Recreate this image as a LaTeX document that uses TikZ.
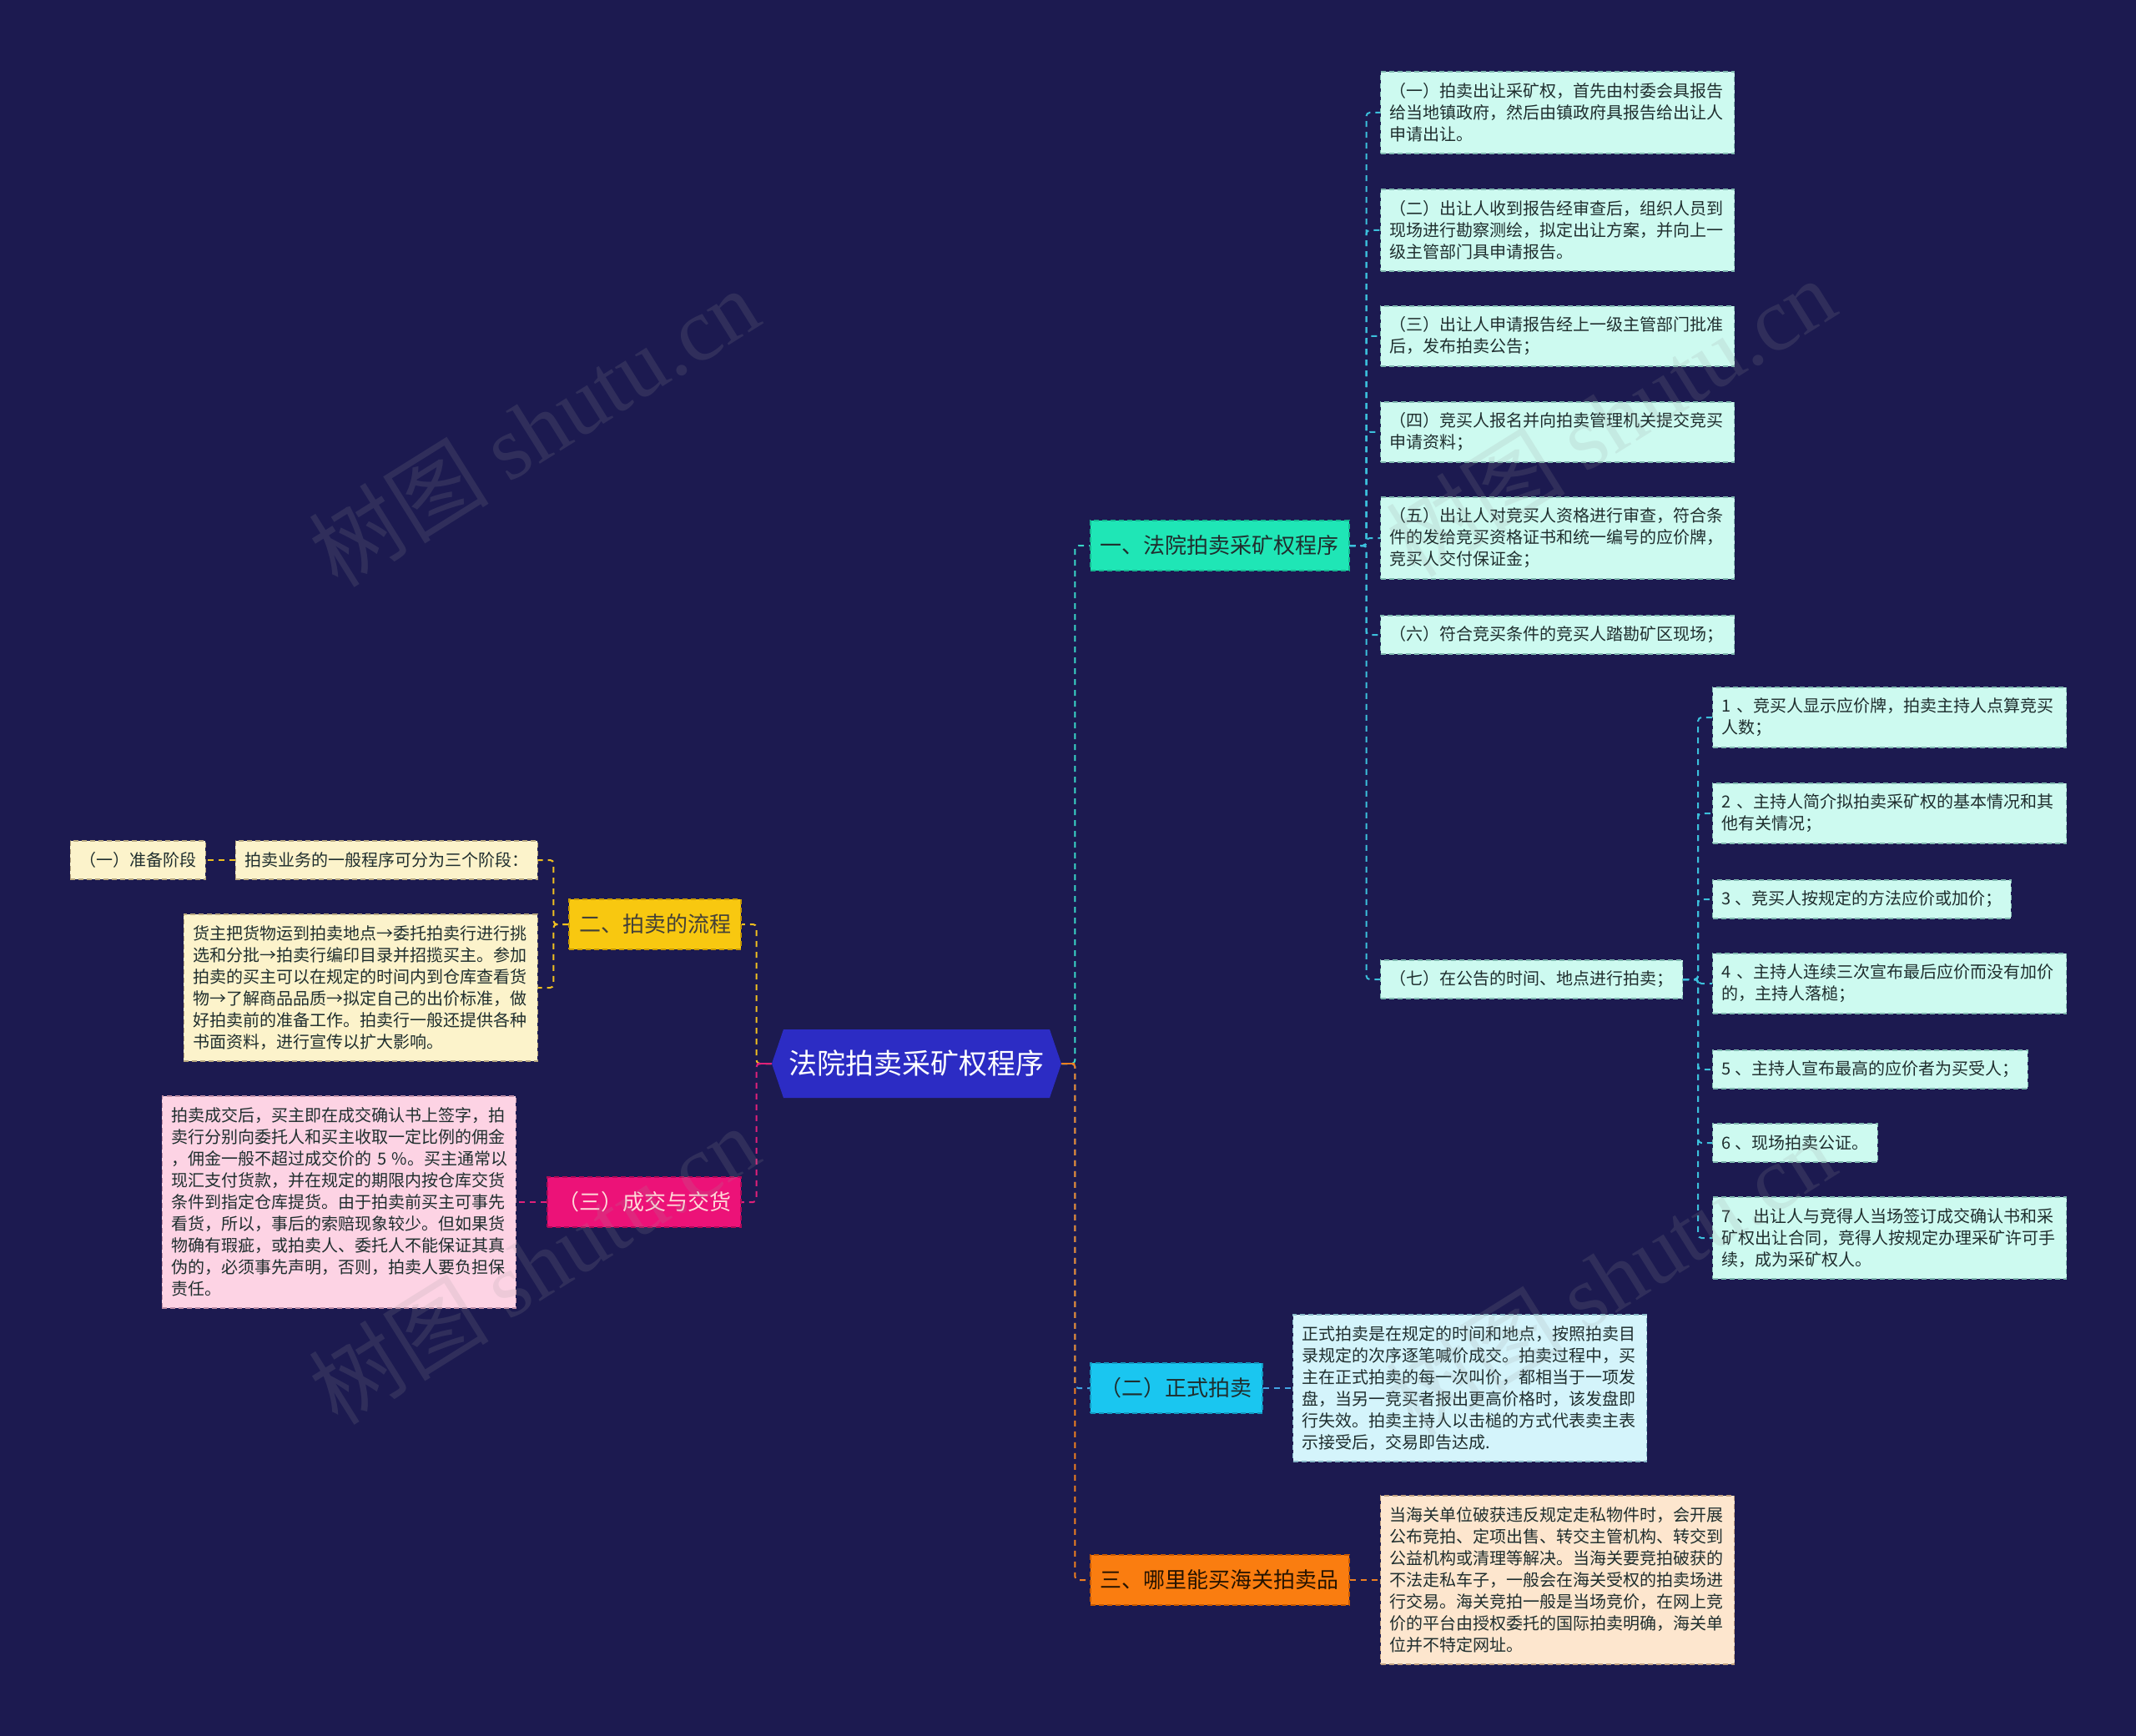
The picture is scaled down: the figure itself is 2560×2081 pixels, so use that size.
\documentclass[tikz,border=0pt]{standalone}
\usepackage{fontspec}
\setmainfont{Noto Sans CJK SC}
\newfontfamily\wmserif{Liberation Serif}
\usetikzlibrary{calc}
\definecolor{bgcol}{HTML}{1C1A50}
\definecolor{rootfill}{HTML}{2C2CC4}
\definecolor{tealfill}{HTML}{1FE6B6}
\definecolor{tealdraw}{HTML}{14B890}
\definecolor{cyanfill}{HTML}{1AC6F0}
\definecolor{cyandraw}{HTML}{1398C0}
\definecolor{orangefill}{HTML}{FA7D10}
\definecolor{orangedraw}{HTML}{C85A00}
\definecolor{yellowfill}{HTML}{F8C810}
\definecolor{yellowdraw}{HTML}{C89A00}
\definecolor{pinkfill}{HTML}{EC1278}
\definecolor{pinkdraw}{HTML}{B00A58}
\definecolor{mintfill}{HTML}{CDFAF0}
\definecolor{mintdraw}{HTML}{80B8B0}
\definecolor{creamfill}{HTML}{FCF3CB}
\definecolor{creamdraw}{HTML}{B8A880}
\definecolor{lpinkfill}{HTML}{FDD3E4}
\definecolor{lpinkdraw}{HTML}{C090A8}
\definecolor{lbluefill}{HTML}{D4F4FB}
\definecolor{lbluedraw}{HTML}{88B8C8}
\definecolor{peachfill}{HTML}{FDE6CE}
\definecolor{peachdraw}{HTML}{C0A080}
\definecolor{leaftext}{HTML}{1F2E2E}
\definecolor{tealline}{HTML}{3AD8C8}
\definecolor{cyanline}{HTML}{3CC0DC}
\definecolor{blueline}{HTML}{42A4E4}
\definecolor{orangeline}{HTML}{F08020}
\definecolor{yellowline}{HTML}{F0C020}
\definecolor{pinkline}{HTML}{E0207A}
\definecolor{wmcol}{HTML}{9A9A9A}
\begin{document}
\begin{tikzpicture}[x=0.5pt,y=-0.5pt,
  base/.style={font=\fontsize{10}{13}\selectfont, inner xsep=5.5pt, inner ysep=4pt,
    dash pattern=on 3pt off 2pt, line width=0.6pt, text=leaftext},
  wide/.style={text width=201pt, align=left},
  mint/.style={base, fill=mintfill, draw=mintdraw},
  cream/.style={base, fill=creamfill, draw=creamdraw},
  lpink/.style={base, fill=lpinkfill, draw=lpinkdraw},
  lblue/.style={base, fill=lbluefill, draw=lbluedraw},
  peach/.style={base, fill=peachfill, draw=peachdraw},
  hA/.style={minimum height=23pt},
  hB/.style={minimum height=36pt},
  hC/.style={minimum height=49pt},
  hF/.style={minimum height=88pt},
  hG/.style={minimum height=101pt},
  hI/.style={minimum height=127pt},
  lvl/.style={font=\fontsize{13}{16}\selectfont, inner xsep=6pt, inner ysep=3pt,
    minimum height=30pt, dash pattern=on 3pt off 2pt, line width=0.8pt},
  conn/.style={dash pattern=on 3.5pt off 3pt, line width=1pt, rounded corners=2pt},
  wm/.style={rotate=32, text=wmcol, opacity=0.16, font=\fontsize{54}{54}\selectfont}
]
\fill[bgcol] (0,0) rectangle (2560,2081);
\useasboundingbox (0,0) rectangle (2560,2081);

% root
\fill[rootfill] (925,1275) -- (939,1234) -- (1258,1234) -- (1272,1275) -- (1258,1316) -- (939,1316) -- cycle;
\node[minimum width=173.5pt, minimum height=41pt, inner sep=0pt, text=white,
  font=\fontsize{17}{20}\selectfont] (root) at (1098.5,1275) {法院拍卖采矿权程序};

% level 1 right
\node[lvl, anchor=west, fill=tealfill, draw=tealdraw, text=leaftext] (n1) at (1306,654) {一、法院拍卖采矿权程序};
\node[lvl, anchor=west, fill=cyanfill, draw=cyandraw, text=leaftext] (n2) at (1306,1664) {（二）正式拍卖};
\node[lvl, anchor=west, fill=orangefill, draw=orangedraw, text={black!85!orange}] (n3) at (1306,1894) {三、哪里能买海关拍卖品};

% level 1 left
\node[lvl, anchor=east, fill=yellowfill, draw=yellowdraw, text={black!85!yellow}] (L1) at (889,1108) {二、拍卖的流程};
\node[lvl, anchor=east, fill=pinkfill, draw=pinkdraw, text={pink!60!white}] (L2) at (889,1441) {（三）成交与交货};

% children of n1
\node[mint, wide, hC, anchor=west] (c1) at (1654,135) {（一）拍卖出让采矿权，首先由村委会具报告\\给当地镇政府，然后由镇政府具报告给出让人\\申请出让。};
\node[mint, wide, hC, anchor=west] (c2) at (1654,276) {（二）出让人收到报告经审查后，组织人员到\\现场进行勘察测绘，拟定出让方案，并向上一\\级主管部门具申请报告。};
\node[mint, wide, hB, anchor=west] (c3) at (1654,403) {（三）出让人申请报告经上一级主管部门批准\\后，发布拍卖公告；};
\node[mint, wide, hB, anchor=west] (c4) at (1654,518) {（四）竞买人报名并向拍卖管理机关提交竞买\\申请资料；};
\node[mint, wide, hC, anchor=west] (c5) at (1654,645) {（五）出让人对竞买人资格进行审查，符合条\\件的发给竞买资格证书和统一编号的应价牌，\\竞买人交付保证金；};
\node[mint, wide, hA, anchor=west] (c6) at (1654,761) {（六）符合竞买条件的竞买人踏勘矿区现场；};
\node[mint, hA, anchor=west] (c7) at (1654,1174) {（七）在公告的时间、地点进行拍卖；};

% children of c7
\node[mint, wide, hB, anchor=west] (d1) at (2052,860) {1 、竞买人显示应价牌，拍卖主持人点算竞买\\人数；};
\node[mint, wide, hB, anchor=west] (d2) at (2052,975) {2 、主持人简介拟拍卖采矿权的基本情况和其\\他有关情况；};
\node[mint, hA, anchor=west] (d3) at (2052,1078) {3 、竞买人按规定的方法应价或加价；};
\node[mint, wide, hB, anchor=west] (d4) at (2052,1179) {4 、主持人连续三次宣布最后应价而没有加价\\的，主持人落槌；};
\node[mint, hA, anchor=west] (d5) at (2052,1282) {5 、主持人宣布最高的应价者为买受人；};
\node[mint, hA, anchor=west] (d6) at (2052,1370) {6 、现场拍卖公证。};
\node[mint, wide, hC, anchor=west] (d7) at (2052,1484) {7 、出让人与竞得人当场签订成交确认书和采\\矿权出让合同，竞得人按规定办理采矿许可手\\续，成为采矿权人。};

% child of n2
\node[lblue, wide, hF, anchor=west] (n2a) at (1549,1664) {正式拍卖是在规定的时间和地点，按照拍卖目\\录规定的次序逐笔喊价成交。拍卖过程中，买\\主在正式拍卖的每一次叫价，都相当于一项发\\盘，当另一竞买者报出更高价格时，该发盘即\\行失效。拍卖主持人以击槌的方式代表卖主表\\示接受后，交易即告达成.};

% child of n3
\node[peach, wide, hG, anchor=west] (n3a) at (1654,1894) {当海关单位破获违反规定走私物件时，会开展\\公布竞拍、定项出售、转交主管机构、转交到\\公益机构或清理等解决。当海关要竞拍破获的\\不法走私车子，一般会在海关受权的拍卖场进\\行交易。海关竞拍一般是当场竞价，在网上竞\\价的平台由授权委托的国际拍卖明确，海关单\\位并不特定网址。};

% children of L1
\node[cream, hA, anchor=east] (L1a) at (645,1031) {拍卖业务的一般程序可分为三个阶段：};
\node[cream, hA, anchor=east] (L1aa) at (247,1031) {（一）准备阶段};
\node[cream, wide, hF, anchor=east] (L1b) at (645,1184) {货主把货物运到拍卖地点→委托拍卖行进行挑\\选和分批→拍卖行编印目录并招揽买主。参加\\拍卖的买主可以在规定的时间内到仓库查看货\\物→了解商品品质→拟定自己的出价标准，做\\好拍卖前的准备工作。拍卖行一般还提供各种\\书面资料，进行宣传以扩大影响。};

% child of L2
\node[lpink, wide, hI, anchor=east] (L2a) at (619,1441) {拍卖成交后，买主即在成交确认书上签字，拍\\卖行分别向委托人和买主收取一定比例的佣金\\，佣金一般不超过成交价的\hbox{ 5 \%}。买主通常以\\现汇支付货款，并在规定的期限内按仓库交货\\条件到指定仓库提货。由于拍卖前买主可事先\\看货，所以，事后的索赔现象较少。但如果货\\物确有瑕疵，或拍卖人、委托人不能保证其真\\伪的，必须事先声明，否则，拍卖人要负担保\\责任。};

% connectors: root right
\draw[conn, tealline] (root.east) -- ++(16,0) |- (n1.west);
\draw[conn, blueline] (root.east) -- ++(16,0) |- (n2.west);
\draw[conn, orangeline] (root.east) -- ++(16,0) |- (n3.west);
\draw[line width=1pt, orangeline] (root.east) -- ++(16,0);
% root left
\draw[conn, yellowline] (root.west) -- ++(-18,0) |- (L1.east);
\draw[conn, pinkline] (root.west) -- ++(-18,0) |- (L2.east);
\draw[line width=1pt, pinkline] (root.west) -- ++(-18,0);

% n1 children
\foreach \c in {c1,c2,c3,c4,c5,c6,c7}
  \draw[conn, cyanline] (n1.east) -- ++(20,0) |- (\c.west);
% c7 children
\foreach \d in {d1,d2,d3,d4,d5,d6,d7}
  \draw[conn, cyanline] (c7.east) -- ++(18,0) |- (\d.west);
% n2, n3
\draw[conn, blueline] (n2.east) -- (n2a.west);
\draw[conn, orangeline] (n3.east) -- (n3a.west);
% L1 children
\draw[conn, yellowline] (L1.west) -- ++(-18,0) |- (L1a.east);
\draw[conn, yellowline] (L1.west) -- ++(-18,0) |- (L1b.east);
\draw[conn, yellowline] (L1a.west) -- (L1aa.east);
% L2 child
\draw[conn, pinkline] (L2.west) -- (L2a.east);

% watermarks
\node[wm] (w1) at (640,512) {树图 {\wmserif shutu.cn}};
\node[wm] (w2) at (640,1516) {树图 {\wmserif shutu.cn}};
\node[wm] (w3) at (1930,500) {树图 {\wmserif shutu.cn}};
\node[wm] (w4) at (1930,1530) {树图 {\wmserif shutu.cn}};
\end{tikzpicture}
\end{document}
